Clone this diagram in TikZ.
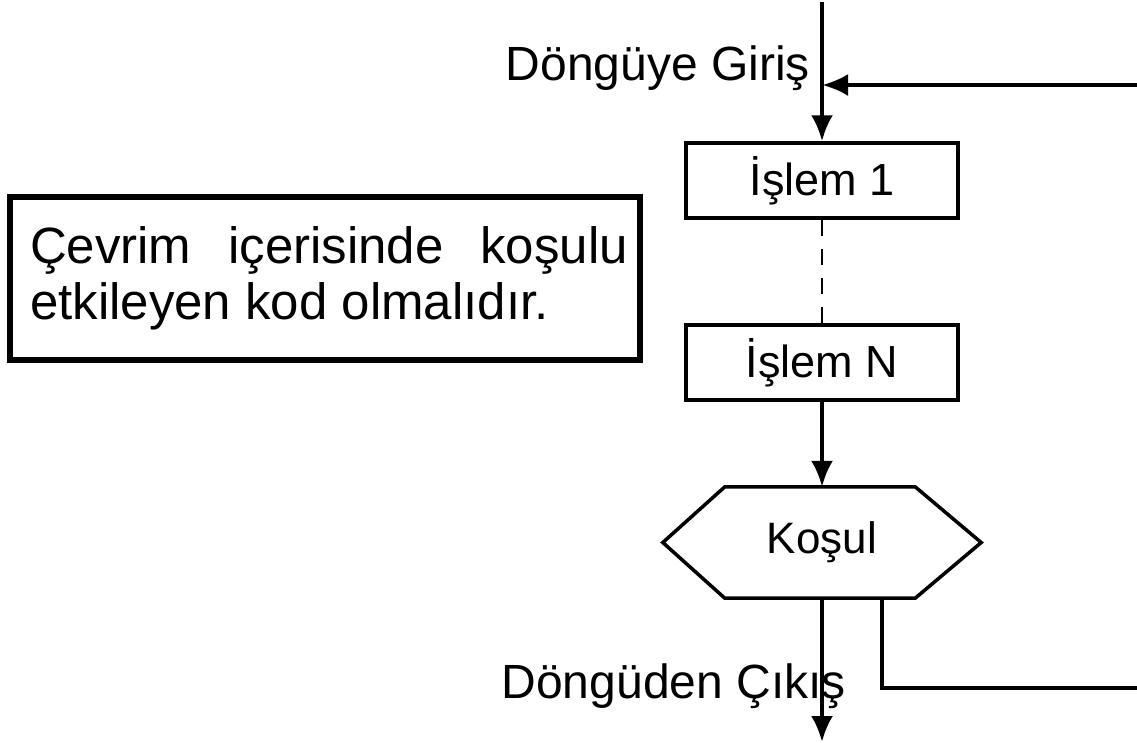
\documentclass[tikz,border=0pt]{standalone}
\usepackage{fontspec}
\setmainfont{Liberation Sans}
\usetikzlibrary{arrows.meta,calc}
\begin{document}
\begin{tikzpicture}[x=1pt,y=-1pt,
  flow/.style={line width=4pt},
  arr/.style={flow,-{Latex[length=26pt,width=22pt]}},
  stepbox/.style={draw,line width=3.5pt,minimum width=272pt,minimum height=75pt,inner sep=0pt,
    font=\fontsize{45}{54}\selectfont},
  lbl/.style={inner sep=0pt,font=\fontsize{48}{56}\selectfont}]
\useasboundingbox (0,0) rectangle (1137,742);

% note box on the left
\node[draw,line width=6pt,minimum width=630pt,minimum height=163pt,inner sep=0pt] (note) at (325,278.5) {};
\node[inner sep=0pt,text width=598pt,align=justify,font=\fontsize{51}{56}\selectfont] (notetext) at (329,278)
  {\hyphenpenalty=10000 Çevrim içerisinde koşulu etkileyen kod olmalıdır.};

% process boxes
\node[stepbox] (i1) at (822,180.5) {İşlem 1};
\node[stepbox] (iN) at (822,362.5) {İşlem N};

% condition hexagon
\node[minimum width=318pt,minimum height=111pt,inner sep=0pt,font=\fontsize{44}{52}\selectfont] (k) at (822,542.5) {Koşul};
\draw[line width=3.5pt,line join=miter]
  (k.west) -- ($(k.north west)+(62,0)$) -- ($(k.north east)+(-66,0)$) -- (k.east)
  -- ($(k.south east)+(-66,0)$) -- ($(k.south west)+(62,0)$) -- cycle;

% labels
\node[lbl,anchor=east] (inlbl) at (810,68) {Döngüye Giriş};
\node[lbl,anchor=east] (outlbl) at (846,686) {Döngüden Çıkış};

% connector end points
\coordinate (top) at (822,2);
\coordinate (entry) at (822,85);
\coordinate (back1) at (1137,85);
\coordinate (fb) at (882,598);
\coordinate (fbcorner) at (882,688);
\coordinate (back2) at (1137,688);
\coordinate (exit) at (822,742);

% flow lines
\draw[arr] (top) -- (i1.north);
\draw[arr] (back1) -- (entry);
\draw[line width=2pt,dash pattern=on 16pt off 13pt] (i1.south) -- (iN.north);
\draw[arr] (iN.south) -- (k.north);
\draw[arr] (k.south) -- (exit);
\draw[flow,line join=miter] (fb) -- (fbcorner) -- (back2);
\end{tikzpicture}
\end{document}
